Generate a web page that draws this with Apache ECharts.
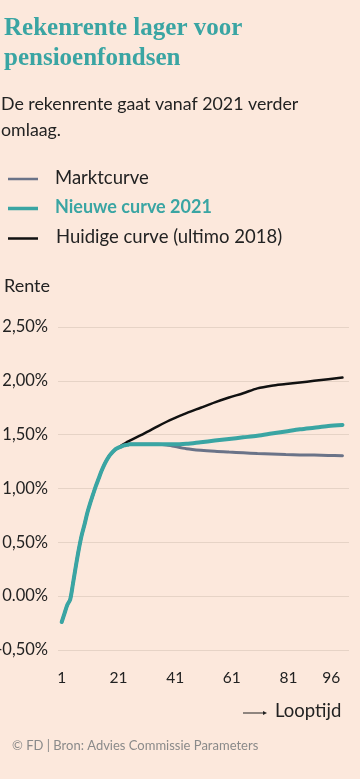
<!DOCTYPE html>
<html>
<head>
<meta charset="utf-8">
<script src="https://cdn.jsdelivr.net/npm/echarts@6/dist/echarts.min.js"></script>
<style>
html,body{margin:0;padding:0;background:#fce8dc;}
#c{width:360px;height:779px;}
</style>
</head>
<body>
<div id="c"></div>
<script>
// Looptijd (jaren)
var looptijd = [1,2,3,4,5,6,7,8,9,10,11,12,13,14,15,16,17,18,19,20,21,22,23,24,25,30,35,38,40,45,50,55,60,65,70,75,80,85,90,95,100];
var marktcurve = [-0.24,-0.16,-0.08,-0.03,0.12,0.28,0.43,0.56,0.66,0.77,0.86,0.94,1.02,1.09,1.16,1.22,1.27,1.31,1.34,1.365,1.38,1.39,1.40,1.405,1.41,1.41,1.41,1.405,1.395,1.37,1.355,1.345,1.338,1.332,1.325,1.32,1.315,1.312,1.31,1.307,1.305];
var nieuweCurve = [-0.24,-0.16,-0.08,-0.03,0.12,0.28,0.43,0.56,0.66,0.77,0.86,0.94,1.02,1.09,1.16,1.22,1.27,1.31,1.34,1.365,1.38,1.39,1.40,1.405,1.41,1.41,1.41,1.41,1.41,1.415,1.43,1.445,1.46,1.475,1.49,1.51,1.53,1.55,1.565,1.58,1.59];
var huidigeCurve = [-0.24,-0.16,-0.08,-0.03,0.12,0.28,0.43,0.56,0.66,0.77,0.86,0.94,1.02,1.09,1.16,1.22,1.27,1.31,1.34,1.365,1.38,1.40,1.415,1.43,1.445,1.51,1.58,1.62,1.645,1.70,1.75,1.80,1.845,1.885,1.93,1.955,1.97,1.985,2.0,2.015,2.03];
var xTicks = [1,21,41,61,81,96];
var yTickLabels = {'-0.5':'-0,50%','0':'0.00%','0.5':'0,50%','1':'1,00%','1.5':'1,50%','2':'2,00%','2.5':'2,50%'};
var seriesNames = ['Marktcurve','Nieuwe curve 2021','Huidige curve (ultimo 2018)'];

function pairs(ys){return looptijd.map(function(x,i){return [x,ys[i]];});}

var SANS = 'Lato, "Open Sans", sans-serif';
var TEAL = '#3aa5a3', GRAY = '#6a7388', BLACK = '#111111';

var chart = echarts.init(document.getElementById('c'), null, {renderer:'canvas'});
chart.setOption({
  backgroundColor:'#fce8dc',
  animation:false,
  title:[
    {text:'Rekenrente lager voor\npensioenfondsen', left:4, top:14, padding:0,
     textStyle:{fontFamily:'"Liberation Serif", serif', fontWeight:'bold', fontSize:25, lineHeight:30, color:TEAL}},
    {text:'De rekenrente gaat vanaf 2021 verder\nomlaag.', left:1, top:91, padding:0,
     textStyle:{fontFamily:SANS, fontWeight:'normal', fontSize:17.8, lineHeight:26, color:'#222'}},
    {text:'Rente', left:4, top:277, padding:0, textStyle:{fontFamily:SANS, fontWeight:'normal', fontSize:18, color:'#222'}},
    {text:'© FD | Bron: Advies Commissie Parameters', left:12, top:739, padding:0,
     textStyle:{fontFamily:SANS, fontWeight:'normal', fontSize:13, color:'#8a8a8a'}}
  ],
  graphic:[
    {type:'line', shape:{x1:8,y1:179,x2:38,y2:179}, style:{stroke:GRAY, lineWidth:2.5}},
    {type:'text', left:55, top:169, style:{text:seriesNames[0], font:'18.5px '+SANS, fill:'#222'}},
    {type:'line', shape:{x1:8,y1:208.5,x2:38,y2:208.5}, style:{stroke:TEAL, lineWidth:3.5}},
    {type:'text', left:55, top:198, style:{text:seriesNames[1], font:'bold 18px '+SANS, fill:TEAL}},
    {type:'line', shape:{x1:8,y1:238.5,x2:38,y2:238.5}, style:{stroke:BLACK, lineWidth:2.5}},
    {type:'text', left:56, top:228, style:{text:seriesNames[2], font:'18.5px '+SANS, fill:'#222'}},
    {type:'line', shape:{x1:243,y1:713,x2:265,y2:713}, style:{stroke:'#222', lineWidth:1}},
    {type:'polygon', shape:{points:[[263,711],[267,713],[263,715]]}, style:{fill:'#222'}},
    {type:'text', left:275, top:702, style:{text:'Looptijd', font:'18.5px '+SANS, fill:'#222'}}
  ],
  grid:{left:58, right:11, top:327, bottom:129, containLabel:false, outerBoundsMode:'none'},
  xAxis:{
    type:'value', min:-0.3, max:102.3,
    axisLine:{show:false}, axisTick:{show:false}, splitLine:{show:false},
    axisLabel:{customValues:xTicks, margin:20, fontFamily:SANS, fontSize:15.5, color:'#222'}
  },
  yAxis:{
    type:'value', min:-0.5, max:2.5, interval:0.5,
    axisLine:{show:false}, axisTick:{show:false},
    splitLine:{lineStyle:{color:'#e6d3c6', width:1}},
    axisLabel:{margin:10, fontFamily:SANS, fontSize:16.5, color:'#222',
      formatter:function(v){return yTickLabels[String(v)] || v;}}
  },
  series:[
    {name:seriesNames[0], type:'line', data:pairs(marktcurve), showSymbol:false, smooth:0.3,
     lineStyle:{color:GRAY, width:3, cap:'round'}, z:2},
    {name:seriesNames[2], type:'line', data:pairs(huidigeCurve), showSymbol:false, smooth:0.3,
     lineStyle:{color:BLACK, width:2.5, cap:'round'}, z:3},
    {name:seriesNames[1], type:'line', data:pairs(nieuweCurve), showSymbol:false, smooth:0.3,
     lineStyle:{color:TEAL, width:4, cap:'round'}, z:4}
  ]
});
</script>
</body>
</html>
